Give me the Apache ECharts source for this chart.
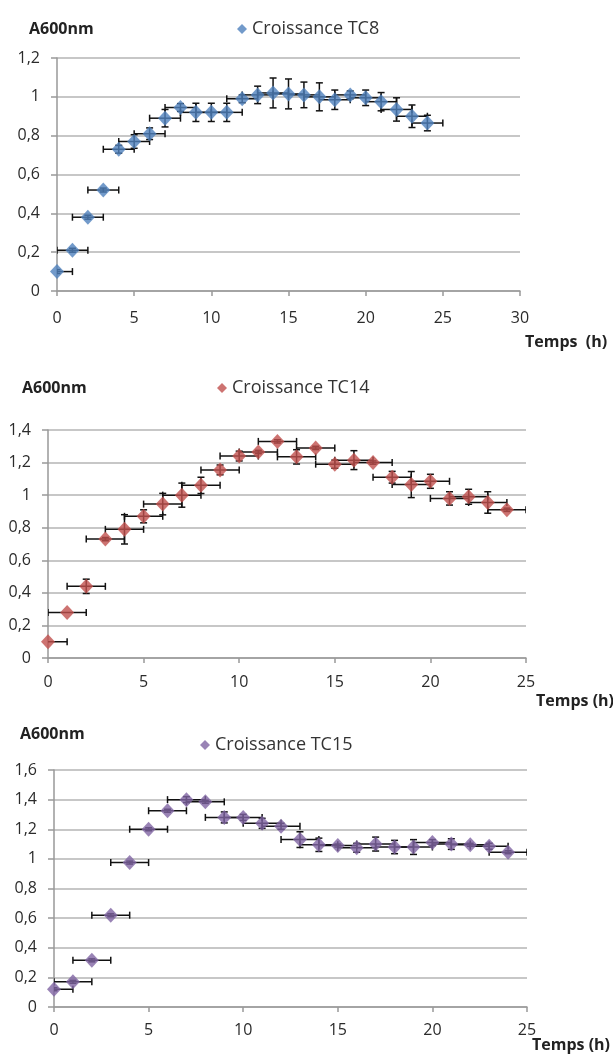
<!DOCTYPE html>
<html>
<head>
<meta charset="utf-8">
<script src="https://cdn.jsdelivr.net/npm/echarts@6/dist/echarts.min.js"></script>
<style>
  html, body { margin: 0; padding: 0; background: #fff; }
  #main { width: 613px; height: 1062px; }
</style>
</head>
<body>
<div id="main"></div>
<script>
var hours = [0, 1, 2, 3, 4, 5, 6, 7, 8, 9, 10, 11, 12, 13, 14, 15, 16, 17, 18, 19, 20, 21, 22, 23, 24];
var timeErr = 1;

var tc8 = [0.10, 0.21, 0.38, 0.52, 0.73, 0.77, 0.81, 0.89, 0.945, 0.92, 0.92, 0.92, 0.99, 1.01, 1.02, 1.015, 1.01, 1.0, 0.985, 1.01, 0.995, 0.975, 0.935, 0.9, 0.865];
var tc8Err = [0.01, 0.01, 0.01, 0.01, 0.02, 0.035, 0.03, 0.045, 0.02, 0.047, 0.047, 0.047, 0.02, 0.045, 0.077, 0.077, 0.066, 0.072, 0.05, 0.02, 0.04, 0.047, 0.06, 0.058, 0.04];

var tc14 = [0.10, 0.28, 0.44, 0.73, 0.79, 0.87, 0.945, 1.0, 1.06, 1.155, 1.24, 1.265, 1.33, 1.235, 1.29, 1.19, 1.215, 1.2, 1.11, 1.065, 1.085, 0.98, 0.99, 0.955, 0.91];
var tc14Err = [0, 0, 0.044, 0.01, 0.09, 0.04, 0.066, 0.074, 0.05, 0.03, 0.03, 0.01, 0.01, 0.044, 0.01, 0.025, 0.058, 0.01, 0.036, 0.08, 0.043, 0.041, 0.046, 0.066, 0.01];

var tc15 = [0.12, 0.17, 0.315, 0.62, 0.975, 1.2, 1.325, 1.4, 1.385, 1.28, 1.28, 1.24, 1.22, 1.13, 1.095, 1.09, 1.075, 1.1, 1.08, 1.08, 1.11, 1.1, 1.095, 1.085, 1.045];
var tc15Err = [0.01, 0.01, 0.01, 0.01, 0.01, 0.01, 0.01, 0.02, 0.01, 0.037, 0.02, 0.034, 0.02, 0.053, 0.045, 0.01, 0.03, 0.047, 0.045, 0.05, 0.02, 0.036, 0.01, 0.02, 0.01];

var names = ['Croissance TC8', 'Croissance TC14', 'Croissance TC15'];
var colors = ['#4F81BD', '#C0504D', '#8064A2'];
var yMax = [1.2, 1.4, 1.6];
var xMax = [30, 25, 25];

var chartDom = document.getElementById('main');
var myChart = echarts.init(chartDom);

var font = 'Open Sans, DejaVu Sans, sans-serif';
var gridColor = '#b4b4b4';

function commaLabel(v) {
    return String(+v.toFixed(1)).replace('.', ',');
}

function errorBars(api) {
    var x = api.value(0), y = api.value(1), ex = api.value(2), ey = api.value(3);
    var c = api.coord([x, y]);
    var l = api.coord([x - ex, y]);
    var r = api.coord([x + ex, y]);
    var cap = 3.5;
    var style = { stroke: '#111', lineWidth: 1.5 };
    var children = [
        { type: 'line', shape: { x1: l[0], y1: c[1], x2: r[0], y2: c[1] }, style: style },
        { type: 'line', shape: { x1: l[0], y1: c[1] - cap, x2: l[0], y2: c[1] + cap }, style: style },
        { type: 'line', shape: { x1: r[0], y1: c[1] - cap, x2: r[0], y2: c[1] + cap }, style: style }
    ];
    if (ey > 0) {
        var t = api.coord([x, y + ey]);
        var b = api.coord([x, y - ey]);
        children.push(
            { type: 'line', shape: { x1: c[0], y1: t[1], x2: c[0], y2: b[1] }, style: style },
            { type: 'line', shape: { x1: c[0] - cap, y1: t[1], x2: c[0] + cap, y2: t[1] }, style: style },
            { type: 'line', shape: { x1: c[0] - cap, y1: b[1], x2: c[0] + cap, y2: b[1] }, style: style }
        );
    }
    return { type: 'group', children: children };
}

var grids = [
    { left: 57, right: 93, top: 58, height: 233 },
    { left: 48, right: 87, top: 430, height: 228 },
    { left: 54, right: 86, top: 770, height: 237 }
];
var labelMargin = [19, 16, 15];
var yValues = [tc8, tc14, tc15];
var yErrors = [tc8Err, tc14Err, tc15Err];

var xAxes = [], yAxes = [], series = [];
for (var i = 0; i < 3; i++) {
    xAxes.push({
        type: 'value', gridIndex: i, min: 0, max: xMax[i], interval: 5,
        axisLine: { show: true, lineStyle: { color: '#999', width: 1.5 } },
        axisTick: { show: true, length: 5, lineStyle: { color: '#999', width: 1.5 } },
        axisLabel: { margin: labelMargin[i], color: '#2b2b2b', fontSize: 16, fontFamily: font },
        splitLine: { show: false }
    });
    yAxes.push({
        type: 'value', gridIndex: i, min: 0, max: yMax[i], interval: 0.2,
        axisLine: { show: true, lineStyle: { color: '#999', width: 1.5 } },
        axisTick: { show: true, length: 6, lineStyle: { color: '#999', width: 1.5 } },
        axisLabel: { margin: 17, color: '#2b2b2b', fontSize: 16, fontFamily: font, formatter: commaLabel },
        splitLine: { show: true, lineStyle: { color: gridColor, width: 1.5 } }
    });
    series.push({
        type: 'custom',
        xAxisIndex: i, yAxisIndex: i,
        renderItem: function (params, api) { return errorBars(api); },
        clip: true,
        z: 2,
        silent: true,
        data: hours.map(function (h, k) { return [h, yValues[i][k], timeErr, yErrors[i][k]]; })
    });
    series.push({
        name: names[i],
        type: 'scatter',
        xAxisIndex: i, yAxisIndex: i,
        symbol: 'diamond',
        symbolSize: [14, 15],
        itemStyle: { color: colors[i] },
        z: 3,
        data: hours.map(function (h, k) { return [h, yValues[i][k]]; })
    });
}

var legendPos = [
    { left: 232, top: 15 },
    { left: 212, top: 374 },
    { left: 195, top: 731 }
];

var option = {
    animation: false,
    backgroundColor: '#fff',
    title: [
        { text: 'A600nm', left: 24, top: 16, textStyle: { fontSize: 16, fontWeight: 'bold', color: '#222', fontFamily: font } },
        { text: 'A600nm', left: 17, top: 375, textStyle: { fontSize: 16, fontWeight: 'bold', color: '#222', fontFamily: font } },
        { text: 'A600nm', left: 15, top: 721, textStyle: { fontSize: 16, fontWeight: 'bold', color: '#222', fontFamily: font } },
        { text: 'Temps  (h)', left: 520, top: 329, textStyle: { fontSize: 16, fontWeight: 'bold', color: '#222', fontFamily: font } },
        { text: 'Temps (h)', left: 531, top: 688, textStyle: { fontSize: 16, fontWeight: 'bold', color: '#222', fontFamily: font } },
        { text: 'Temps (h)', left: 527, top: 1032, textStyle: { fontSize: 16, fontWeight: 'bold', color: '#222', fontFamily: font } }
    ],
    legend: names.map(function (n, i) {
        return {
            data: [{ name: n, icon: 'diamond' }],
            left: legendPos[i].left, top: legendPos[i].top,
            itemWidth: 10, itemHeight: 10,
            textStyle: { fontSize: 18, color: '#333', fontFamily: font }
        };
    }),
    grid: grids,
    xAxis: xAxes,
    yAxis: yAxes,
    series: series
};

option && myChart.setOption(option);
</script>
</body>
</html>
